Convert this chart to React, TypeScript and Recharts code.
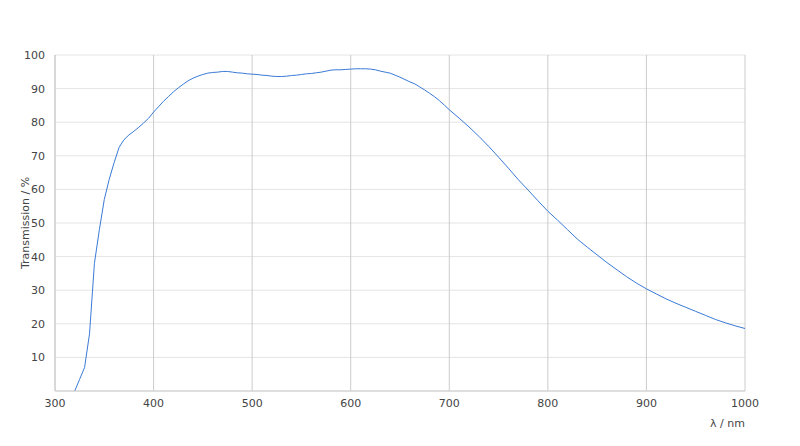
import { LineChart, Line, XAxis, YAxis, CartesianGrid } from 'recharts'

// wavelength (nm) and transmission (%)
const wavelengths = [
  320, 325, 330, 335, 340, 345, 350, 355, 360, 365, 370, 375, 380, 385, 390, 395,
  400, 405, 410, 415, 420, 425, 430, 435, 440, 445, 450, 455, 460, 465, 470, 475,
  480, 485, 490, 495, 500, 505, 510, 515, 520, 525, 530, 535, 540, 545, 550, 555,
  560, 565, 570, 575, 580, 585, 590, 595, 600, 605, 610, 615, 620, 625, 630, 635,
  640, 645, 650, 655, 660, 665, 670, 675, 680, 685, 690, 695, 700, 710, 720, 730,
  740, 750, 760, 770, 780, 790, 800, 810, 820, 830, 840, 850, 860, 870, 880, 890,
  900, 910, 920, 930, 940, 950, 960, 970, 980, 990, 1000,
]
const transmission = [
  0, 3.5, 7, 17, 38, 48, 57, 63, 68, 72.5, 74.8, 76.2, 77.3, 78.5, 79.8, 81.2,
  83, 84.6, 86.2, 87.6, 89, 90.2, 91.3, 92.3, 93.1, 93.7, 94.2, 94.6, 94.8, 94.9, 95.1, 95.1,
  94.9, 94.7, 94.6, 94.4, 94.3, 94.2, 94.0, 93.9, 93.7, 93.6, 93.6, 93.7, 93.9, 94.0, 94.2, 94.4,
  94.5, 94.7, 94.9, 95.2, 95.5, 95.6, 95.6, 95.7, 95.8, 95.9, 95.9, 95.9, 95.8, 95.6, 95.2, 94.9,
  94.6, 94.0, 93.4, 92.7, 92.0, 91.4, 90.5, 89.6, 88.6, 87.6, 86.4, 85.1, 83.7, 81.2, 78.6, 75.8,
  72.8, 69.6, 66.3, 62.9, 59.8, 56.6, 53.5, 50.8, 48, 45.2, 42.8, 40.5, 38.2, 36.1, 34, 32.1,
  30.4, 28.9, 27.4, 26.1, 24.9, 23.7, 22.5, 21.3, 20.3, 19.4, 18.6,
]
const xTicks = [300, 400, 500, 600, 700, 800, 900, 1000]
const yTicks = [10, 20, 30, 40, 50, 60, 70, 80, 90, 100]

const chartData = wavelengths.map((w, i) => ({ nm: w, t: transmission[i] }))

const font = { fontFamily: 'DejaVu Sans, sans-serif', fontSize: 11, fill: '#444' }

// rotated y-axis title, centred on the axis box
const YTitle = ({ viewBox }: any) => {
  const cx = viewBox.x + 10
  const cy = viewBox.y + viewBox.height / 2
  return (
    <text x={cx} y={cy} transform={`rotate(-90 ${cx} ${cy})`} textAnchor="middle" dominantBaseline="central" style={font}>
      Transmission / %
    </text>
  )
}

export default function App() {
  return (
    <div style={{ position: 'absolute', left: 0, top: 0, background: '#fff' }}>
      <LineChart width={800} height={446} data={chartData} margin={{ top: 55, right: 55, left: 15, bottom: 19 }}>
        <CartesianGrid vertical={false} stroke="#e4e4e4" />
        <CartesianGrid horizontal={false} stroke="#cccccc" />
        <XAxis
          dataKey="nm"
          type="number"
          domain={[300, 1000]}
          ticks={xTicks}
          height={36}
          tickLine={false}
          axisLine={{ stroke: '#cccccc' }}
          tick={font}
          label={{ value: 'λ / nm', position: 'insideBottomRight', offset: 0, style: font }}
        />
        <YAxis
          type="number"
          domain={[0, 100]}
          ticks={yTicks}
          width={40}
          tickLine={false}
          tickMargin={4}
          axisLine={{ stroke: '#cccccc' }}
          tick={font}
          label={<YTitle />}
        />
        <Line
          type="linear"
          dataKey="t"
          stroke="#3a7ad6"
          strokeWidth={1}
          dot={false}
          isAnimationActive={false}
        />
      </LineChart>
    </div>
  )
}
